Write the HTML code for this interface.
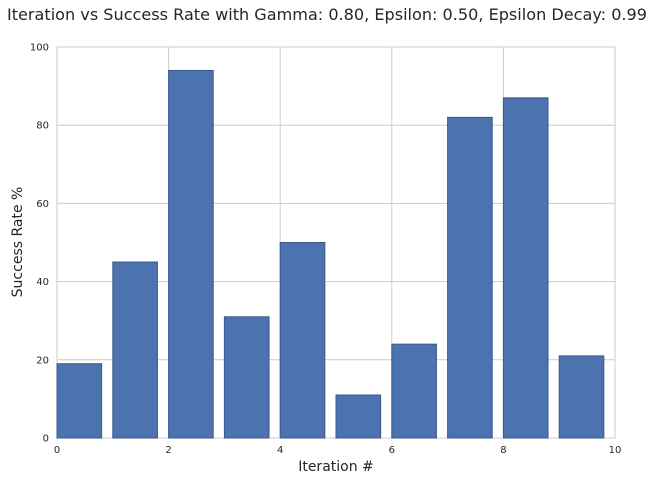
<!DOCTYPE html>
<html><head><meta charset="utf-8"><style>
body{margin:0;background:#fff;width:654px;height:481px;overflow:hidden;font-family:"DejaVu Sans","Liberation Sans",sans-serif}
</style></head><body>
<svg id="chart" width="654" height="481">
<text x="327" y="20" text-anchor="middle" font-size="16" textLength="640" lengthAdjust="spacingAndGlyphs" fill="#262626">Iteration vs Success Rate with Gamma: 0.80, Epsilon: 0.50, Epsilon Decay: 0.99</text>
<g id="grid"></g><g id="bars"></g><g id="ticks"></g>
<text x="336" y="471" text-anchor="middle" font-size="14" fill="#262626">Iteration #</text>
<text transform="translate(22,242) rotate(-90)" text-anchor="middle" font-size="14" fill="#262626">Success Rate %</text>
</svg>
<script>
const categories=[0,1,2,3,4,5,6,7,8,9];
const values=[19,45,94,31,50,11,24,82,87,21];
const xTicks=[0,2,4,6,8,10];
const yTicks=[0,20,40,60,80,100];
const L=57,R=615,T=47,B=438;
const x=v=>L+(v/10)*(R-L), y=v=>B-(v/100)*(B-T);
const NS="http://www.w3.org/2000/svg";
function mk(t,a,p){const e=document.createElementNS(NS,t);for(const k in a)e.setAttribute(k,a[k]);p.appendChild(e);return e;}
const grid=document.getElementById('grid'),bars=document.getElementById('bars'),ticks=document.getElementById('ticks');
mk('rect',{x:L,y:T,width:R-L,height:B-T,fill:'#fff',stroke:'#ccc'},grid);
xTicks.forEach(t=>{const g=mk('line',{x1:x(t),x2:x(t),y1:T,y2:B,stroke:'#ccc'},grid);


const l=mk('text',{x:x(t),y:B+15,'text-anchor':'middle','font-size':10,fill:'#262626'},ticks);l.textContent=t;

});
yTicks.forEach(t=>{const g=mk('line',{x1:L,x2:R,y1:y(t),y2:y(t),stroke:'#ccc'},grid);


const l=mk('text',{x:L-8,y:y(t)+3.5,'text-anchor':'end','font-size':10,fill:'#262626'},ticks);l.textContent=t;

});
categories.forEach((c,i)=>{const b=mk('rect',{x:x(c),y:y(values[i]),width:x(c+0.8)-x(c),height:B-y(values[i]),fill:'#4c72b0',stroke:'#3a5a8c','stroke-width':1},bars);

});
</script>
</body></html>
